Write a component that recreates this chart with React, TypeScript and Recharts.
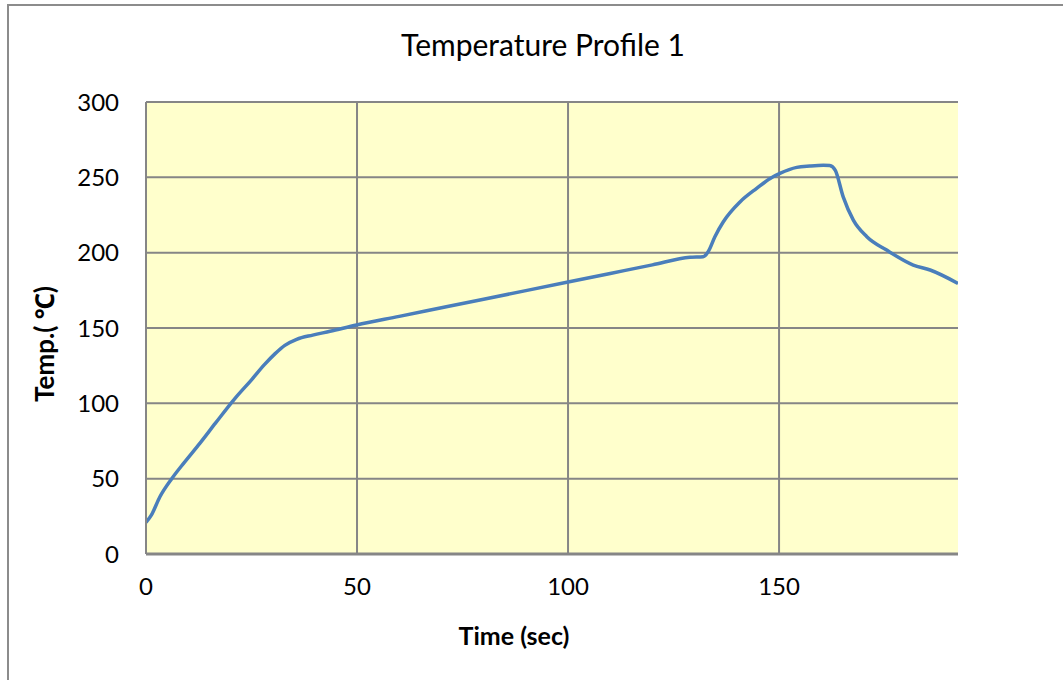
import React from 'react';
import { LineChart, Line, XAxis, YAxis, CartesianGrid } from 'recharts';

// Time (sec)
const timeSec = [
    0, 1.3, 3.3, 6.1, 9, 12.8, 16.5, 21.1, 25, 28, 30.6, 32.9, 35.7, 39.5, 43.6, 49.9,
    60, 70, 80, 90, 100, 110, 120, 128.9, 132, 133.2, 134.8, 136.8, 140.8,
    144.7, 147.9, 150.2, 154.2, 157.3, 160.5, 162, 163.3, 165.2, 167.6, 170.8, 175.5,
    181.8, 185.8, 192.4,
];

// Temperature (°C) at each time
const tempC = [
    21, 26, 38, 50, 60.5, 73.6, 87, 103.3, 115.6, 125.5, 133, 138.5, 142.5, 145.3, 147.8, 152,
    157.7, 163.4, 169.1, 174.8, 180.5, 186.2, 191.9, 196.9, 197.3, 200.6, 210.6,
    220.5, 233.8, 242.7, 249.3, 252.6, 256.6, 257.5, 258, 257.8, 254.8, 237, 221.6,
    210.6, 201.7, 191.8, 188.5, 179.6,
];

const xTicks = [0, 50, 100, 150];
const yTicks = [0, 50, 100, 150, 200, 250, 300];

const data = timeSec.map((t, i) => ({ time: t, temp: tempC[i] }));

const font = 'Lato, "Noto Sans", sans-serif';
const gridColor = '#868686';

const App: React.FC = () => {
    return (
        <div style={{ position: 'fixed', left: 0, top: 0, width: 1063, height: 680, overflow: 'hidden', background: 'white', fontFamily: font }}>
            <div style={{ position: 'absolute', left: 7, top: 4, width: 1200, height: 800, border: '2px solid #8c8c8c' }} />

            <div style={{ position: 'absolute', left: 0, top: 25, width: 1086, textAlign: 'center', fontSize: 30, lineHeight: '38px', color: '#000' }}>
                Temperature Profile 1
            </div>

            <div style={{ position: 'absolute', left: 0, top: 619, width: 1028, textAlign: 'center', fontSize: 25, lineHeight: '32px', fontWeight: 'bold', color: '#000' }}>
                Time (sec)
            </div>

            <div style={{ position: 'absolute', left: 44, top: 344, transform: 'translate(-50%, -50%) rotate(-90deg)', whiteSpace: 'nowrap', fontSize: 26, lineHeight: '32px', fontWeight: 'bold', color: '#000' }}>
                Temp.( ℃)
            </div>

            <div style={{ position: 'absolute', left: 0, top: 0 }}>
                <LineChart
                    width={1063}
                    height={680}
                    data={data}
                    margin={{ top: 102, right: 105, left: 86, bottom: 96 }}
                >
                    <CartesianGrid
                        stroke={gridColor}
                        strokeWidth={2}
                        fill="#FFFFCC"
                        horizontalValues={yTicks}
                        verticalValues={xTicks}
                    />
                    <XAxis
                        dataKey="time"
                        type="number"
                        domain={[0, 192.4]}
                        ticks={xTicks}
                        allowDataOverflow
                        height={30}
                        tickSize={0}
                        tickMargin={24}
                        axisLine={{ stroke: gridColor, strokeWidth: 3 }}
                        tick={{ fill: '#000', fontSize: 24, fontFamily: font }}
                    />
                    <YAxis
                        type="number"
                        domain={[0, 300]}
                        ticks={yTicks}
                        width={60}
                        tickSize={0}
                        tickMargin={27}
                        axisLine={{ stroke: gridColor, strokeWidth: 2 }}
                        tick={{ fill: '#000', fontSize: 24, fontFamily: font }}
                    />
                    <Line
                        type="monotone"
                        dataKey="temp"
                        stroke="#4A7EBB"
                        strokeWidth={3.5}
                        dot={false}
                        isAnimationActive={false}
                    />
                </LineChart>
            </div>
        </div>
    );
};

export default App;
